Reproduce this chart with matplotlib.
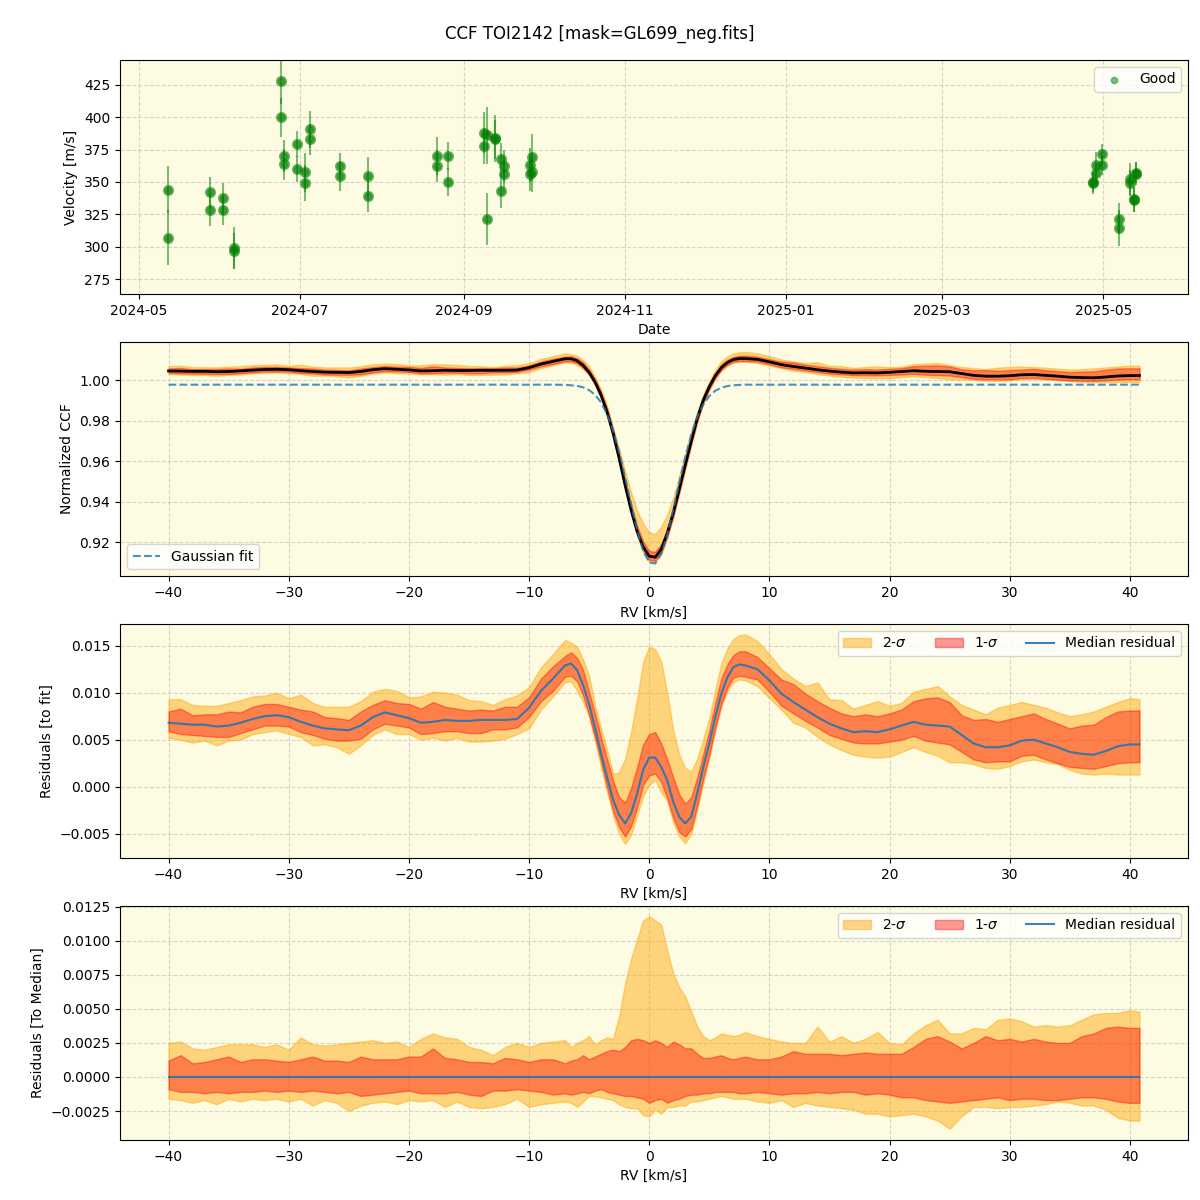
import numpy as np
import pandas as pd
import matplotlib
matplotlib.use('Agg')
import matplotlib.pyplot as plt
import matplotlib.dates as mdates

# ---------------- data: RV time series ----------------
obs_dates = ['2024-05-12 05:00', '2024-05-12 05:00', '2024-05-28 00:00', '2024-05-28 00:00',
             '2024-06-02 00:00', '2024-06-02 00:00', '2024-06-06 02:00', '2024-06-06 02:00',
             '2024-06-23 19:00', '2024-06-23 19:00', '2024-06-25 00:00', '2024-06-25 00:00',
             '2024-06-29 19:00', '2024-06-29 19:00', '2024-07-02 22:00', '2024-07-02 22:00',
             '2024-07-04 22:00', '2024-07-04 22:00', '2024-07-16 02:00', '2024-07-16 02:00',
             '2024-07-27 00:00', '2024-07-27 00:00', '2024-08-21 19:00', '2024-08-21 19:00',
             '2024-08-25 22:00', '2024-08-25 22:00', '2024-09-08 17:00', '2024-09-08 17:00',
             '2024-09-09 19:00', '2024-09-09 19:00', '2024-09-12 22:00', '2024-09-12 22:00',
             '2024-09-15 00:00', '2024-09-15 00:00', '2024-09-16 02:00', '2024-09-16 02:00',
             '2024-09-25 22:00', '2024-09-25 22:00', '2024-09-27 00:00', '2024-09-27 00:00',
             '2025-04-27 05:00', '2025-04-27 05:00', '2025-04-28 02:00', '2025-04-28 02:00',
             '2025-04-30 07:00', '2025-04-30 07:00', '2025-05-07 02:00', '2025-05-07 02:00',
             '2025-05-11 02:00', '2025-05-11 02:00', '2025-05-12 10:00', '2025-05-12 10:00',
             '2025-05-13 05:00', '2025-05-13 05:00']
velocity = [344, 307, 342, 328, 337.5, 328, 299, 297, 428, 400, 370, 363.6, 379, 360,
            357.5, 349, 390.5, 383, 362.3, 354.4, 354.4, 339, 370, 362.3, 370, 350,
            388, 377.7, 386, 321.5, 383.6, 383, 368, 343, 362.3, 356.4, 363, 356,
            369, 357.5, 350, 349, 363, 356.7, 371.3, 363, 321.5, 314.4, 352.3, 349,
            337, 336, 356.4, 357]
velocity_err = [18, 21, 12, 12, 12, 11, 16, 14, 18, 15, 12, 12, 10, 10, 15, 14, 14, 12,
                10, 11, 15, 12, 15, 12, 11, 11, 16, 14, 22, 20, 18, 15, 12, 13, 12, 12,
                13, 13, 18, 15, 8, 8, 10, 8, 8, 8, 12, 14, 12, 10, 10, 9, 9, 8]

# ---------------- data: CCF profile ----------------
rv = [-40, -39, -38, -37, -36, -35, -34, -33, -32, -31,
      -30, -29, -28, -27, -26, -25, -24, -23, -22, -21,
      -20, -19, -18, -17, -16, -15, -14, -13, -12, -11,
      -10, -9, -8, -7,
      -6.5, -6, -5.5, -5, -4.5, -4, -3.5, -3, -2.5, -2,
      -1.5, -1, -0.5, 0, 0.5, 1, 1.5, 2, 2.5, 3,
      3.5, 4, 4.5, 5, 5.5, 6, 6.5, 7, 7.5,
      8, 9, 10, 11, 12, 13, 14, 15, 16, 17,
      18, 19, 20, 21, 22, 23, 24, 25, 26, 27,
      28, 29, 30, 31, 32, 33, 34, 35, 36, 37,
      38, 39, 40, 40.8]

# gaussian fit of the CCF
gauss_fit = [0.9977] * 33 + [0.9976,
             0.9974, 0.9971, 0.9964, 0.9950, 0.9927, 0.9889, 0.9831, 0.9750, 0.9644, 0.9519,
             0.9385, 0.9259, 0.9158, 0.9100, 0.9094, 0.9143, 0.9236, 0.9359, 0.9493, 0.9620,
             0.9730, 0.9817, 0.9879, 0.9921, 0.9947, 0.9962, 0.9970, 0.9974, 0.9976] + [0.9977] * 34

# median residual to the fit
med_resid = [0.0068, 0.0067, 0.0066, 0.0066, 0.0064, 0.0065, 0.0068, 0.0072, 0.0075, 0.0076,
             0.0074, 0.0069, 0.0065, 0.0062, 0.0061, 0.0060, 0.0065, 0.0074, 0.0079, 0.0076,
             0.0073, 0.0068, 0.0069, 0.0071, 0.0070, 0.0070, 0.0071, 0.0071, 0.0071, 0.0072,
             0.0084, 0.0102, 0.0115, 0.0129,
             0.0131, 0.0124, 0.0108, 0.0088, 0.0062, 0.0035, 0.0010, -0.0014, -0.0030, -0.0039,
             -0.0028, -0.0007, 0.0018, 0.0031, 0.0031, 0.0021, 0.0007, -0.0016, -0.0032, -0.0039,
             -0.0032, -0.0007, 0.0021, 0.0046, 0.0074, 0.0099, 0.0116, 0.0127, 0.0130,
             0.0129, 0.0125, 0.0113, 0.0099, 0.0090, 0.0082, 0.0074, 0.0067, 0.0062, 0.0058,
             0.0059, 0.0058, 0.0061, 0.0065, 0.0069, 0.0066, 0.0065, 0.0064, 0.0055, 0.0046,
             0.0042, 0.0042, 0.0044, 0.0049, 0.0050, 0.0046, 0.0042, 0.0037, 0.0035, 0.0034,
             0.0038, 0.0043, 0.0045, 0.0045]

# spread around the median (residuals to median)
up2 = [0.0025, 0.0026, 0.0021, 0.0020, 0.0022, 0.0024, 0.0024, 0.0024, 0.0022, 0.0024,
       0.0020, 0.0029, 0.0024, 0.0023, 0.0024, 0.0025, 0.0026, 0.0027, 0.0025, 0.0026,
       0.0022, 0.0028, 0.0032, 0.0029, 0.0028, 0.0022, 0.0020, 0.0016, 0.0022, 0.0025,
       0.0022, 0.0025, 0.0026, 0.0027,
       0.0022, 0.0025, 0.0027, 0.0030, 0.0024, 0.0027, 0.0029, 0.0028, 0.0045, 0.0069,
       0.0087, 0.0101, 0.0115, 0.0118, 0.0115, 0.0112, 0.0093, 0.0076, 0.0066, 0.0059,
       0.0048, 0.0037, 0.0030, 0.0027, 0.0029, 0.0032, 0.0031, 0.0030, 0.0031,
       0.0033, 0.0030, 0.0028, 0.0026, 0.0025, 0.0025, 0.0037, 0.0026, 0.0030, 0.0025,
       0.0028, 0.0033, 0.0025, 0.0024, 0.0032, 0.0038, 0.0042, 0.0032, 0.0032, 0.0036,
       0.0035, 0.0042, 0.0043, 0.0041, 0.0037, 0.0038, 0.0037, 0.0038, 0.0042, 0.0046,
       0.0047, 0.0047, 0.0049, 0.0048]
up1 = [0.0012, 0.0016, 0.0010, 0.0011, 0.0013, 0.0015, 0.0011, 0.0013, 0.0013, 0.0012,
       0.0011, 0.0013, 0.0015, 0.0012, 0.0012, 0.0011, 0.0015, 0.0013, 0.0013, 0.0013,
       0.0015, 0.0015, 0.0021, 0.0014, 0.0013, 0.0011, 0.0011, 0.0010, 0.0014, 0.0013,
       0.0011, 0.0013, 0.0013, 0.0010,
       0.0012, 0.0013, 0.0016, 0.0013, 0.0015, 0.0017, 0.0019, 0.0020, 0.0019, 0.0022,
       0.0027, 0.0028, 0.0027, 0.0025, 0.0027, 0.0025, 0.0022, 0.0026, 0.0024, 0.0021,
       0.0021, 0.0017, 0.0014, 0.0014, 0.0015, 0.0016, 0.0014, 0.0013, 0.0014,
       0.0015, 0.0013, 0.0013, 0.0015, 0.0019, 0.0017, 0.0017, 0.0017, 0.0016, 0.0017,
       0.0018, 0.0017, 0.0017, 0.0017, 0.0022, 0.0028, 0.0030, 0.0026, 0.0021, 0.0025,
       0.0030, 0.0027, 0.0028, 0.0026, 0.0028, 0.0026, 0.0025, 0.0025, 0.0030, 0.0032,
       0.0036, 0.0037, 0.0036, 0.0036]
lo1 = [-0.0009, -0.0011, -0.0011, -0.0012, -0.0011, -0.0012, -0.0011, -0.0011, -0.0010, -0.0011,
       -0.0010, -0.0011, -0.0010, -0.0011, -0.0012, -0.0011, -0.0014, -0.0013, -0.0012, -0.0011,
       -0.0010, -0.0012, -0.0012, -0.0012, -0.0011, -0.0013, -0.0014, -0.0010, -0.0010, -0.0009,
       -0.0010, -0.0011, -0.0013, -0.0012,
       -0.0013, -0.0012, -0.0011, -0.0012, -0.0010, -0.0009, -0.0011, -0.0012, -0.0013, -0.0014,
       -0.0014, -0.0015, -0.0016, -0.0019, -0.0017, -0.0016, -0.0019, -0.0017, -0.0016, -0.0014,
       -0.0013, -0.0013, -0.0012, -0.0012, -0.0011, -0.0011, -0.0011, -0.0011, -0.0012,
       -0.0012, -0.0011, -0.0012, -0.0013, -0.0012, -0.0012, -0.0011, -0.0012, -0.0011, -0.0011,
       -0.0013, -0.0012, -0.0013, -0.0015, -0.0015, -0.0017, -0.0018, -0.0019, -0.0018, -0.0017,
       -0.0016, -0.0015, -0.0017, -0.0016, -0.0016, -0.0017, -0.0017, -0.0016, -0.0015, -0.0015,
       -0.0016, -0.0018, -0.0019, -0.0019]
lo2 = [-0.0016, -0.0017, -0.0019, -0.0017, -0.0020, -0.0016, -0.0018, -0.0016, -0.0017, -0.0016,
       -0.0018, -0.0016, -0.0021, -0.0017, -0.0019, -0.0025, -0.0021, -0.0019, -0.0018, -0.0020,
       -0.0017, -0.0018, -0.0017, -0.0022, -0.0018, -0.0022, -0.0023, -0.0022, -0.0020, -0.0016,
       -0.0022, -0.0020, -0.0019, -0.0018,
       -0.0019, -0.0022, -0.0018, -0.0014, -0.0014, -0.0015, -0.0016, -0.0017, -0.0020, -0.0022,
       -0.0023, -0.0023, -0.0028, -0.0029, -0.0024, -0.0027, -0.0022, -0.0022, -0.0021, -0.0021,
       -0.0018, -0.0018, -0.0017, -0.0016, -0.0015, -0.0014, -0.0015, -0.0016, -0.0016,
       -0.0016, -0.0018, -0.0019, -0.0017, -0.0022, -0.0019, -0.0021, -0.0022, -0.0023, -0.0024,
       -0.0027, -0.0027, -0.0029, -0.0028, -0.0027, -0.0029, -0.0032, -0.0038, -0.0029, -0.0022,
       -0.0022, -0.0023, -0.0022, -0.0022, -0.0021, -0.0020, -0.0018, -0.0019, -0.0021, -0.0021,
       -0.0024, -0.0030, -0.0032, -0.0032]

rv = np.array(rv)
gauss_fit = np.array(gauss_fit)
med_resid = np.array(med_resid)
up2, up1, lo1, lo2 = map(np.array, (up2, up1, lo1, lo2))

bg = '#fdfbe2'
c2 = 'orange'
c1 = 'red'
cline = 'tab:blue'

fig, (ax1, ax2, ax3, ax4) = plt.subplots(4, 1, figsize=(12, 12), dpi=100)
fig.subplots_adjust(left=0.1, right=0.99, top=0.95, bottom=0.05, hspace=0.204)
fig.suptitle('CCF TOI2142 [mask=GL699_neg.fits]', fontsize=12, y=0.979)

#----------------------------- velocities -----------------------------#
dates = pd.to_datetime(obs_dates)
ax1.errorbar(dates, velocity, yerr=velocity_err, fmt='o', color='green',
             alpha=0.5, markersize=7, elinewidth=1.5)
ax1.scatter(dates, velocity, color='green', alpha=0.5, s=20, label='Good', zorder=3)
ax1.set_xlabel('Date')
ax1.set_ylabel('Velocity [m/s]')
ax1.set_ylim(263.5, 444)
ax1.set_xlim(pd.Timestamp('2024-04-24'), pd.Timestamp('2025-06-02'))
ax1.xaxis.set_major_locator(mdates.MonthLocator(bymonth=[1, 3, 5, 7, 9, 11]))
ax1.xaxis.set_major_formatter(mdates.DateFormatter('%Y-%m'))
ax1.legend(loc='upper right')

#----------------------------- CCF -----------------------------#
ccf_med = gauss_fit + med_resid
ax2.fill_between(rv, ccf_med + lo2, ccf_med + up2, color=c2, alpha=0.45)
ax2.fill_between(rv, ccf_med + lo1, ccf_med + up1, color=c1, alpha=0.4)
ax2.plot(rv, ccf_med, color='black', lw=2)
ax2.plot(rv, gauss_fit, color=cline, ls='--', lw=1.5, alpha=0.8, label='Gaussian fit')
ax2.set_xlabel('RV [km/s]')
ax2.set_ylabel('Normalized CCF')
ax2.set_ylim(0.9032, 1.0188)
ax2.legend(loc='lower left')

#----------------------------- residuals to fit -----------------------------#
ax3.fill_between(rv, med_resid + lo2, med_resid + up2, color=c2, alpha=0.45, label='2-$\\sigma$')
ax3.fill_between(rv, med_resid + lo1, med_resid + up1, color=c1, alpha=0.4, label='1-$\\sigma$')
ax3.plot(rv, med_resid, color=cline, lw=1.5, alpha=0.9, label='Median residual')
ax3.set_xlabel('RV [km/s]')
ax3.set_ylabel('Residuals [to fit]')
ax3.set_ylim(-0.00758, 0.01731)
ax3.legend(loc='upper right', ncol=3)

#----------------------------- residuals to median -----------------------------#
ax4.fill_between(rv, lo2, up2, color=c2, alpha=0.45, label='2-$\\sigma$')
ax4.fill_between(rv, lo1, up1, color=c1, alpha=0.4, label='1-$\\sigma$')
ax4.plot(rv, np.zeros(len(rv)), color=cline, lw=1.5, alpha=0.9, label='Median residual')
ax4.set_xlabel('RV [km/s]')
ax4.set_ylabel('Residuals [To Median]')
ax4.set_ylim(-0.00463, 0.01257)
ax4.legend(loc='upper right', ncol=3)

for ax in (ax2, ax3, ax4):
    ax.set_xlim(-44.04, 44.84)

for ax in (ax1, ax2, ax3, ax4):
    ax.set_facecolor(bg)
    ax.grid(True, linestyle='--', alpha=0.5)
    ax.set_axisbelow(True)

plt.savefig('out.png', dpi=100)
